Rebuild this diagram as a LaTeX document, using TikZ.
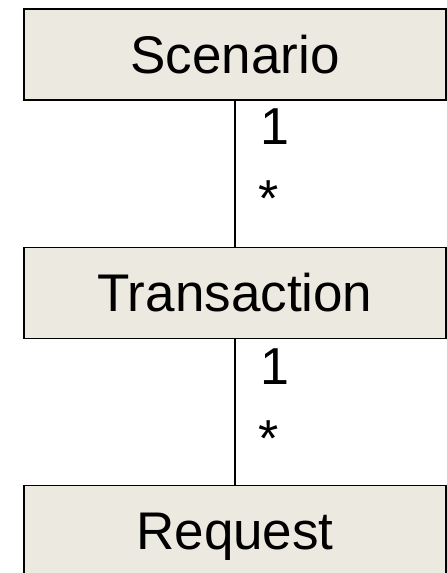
\documentclass[tikz,border=0pt]{standalone}
\usepackage{fontspec}
\setmainfont{Liberation Sans}
\definecolor{boxfill}{RGB}{236,233,224}
\begin{document}
\begin{tikzpicture}[x=1pt,y=1pt,
  classbox/.style={draw=black, line width=1.6pt, fill=boxfill,
    minimum width=422pt, minimum height=91pt, inner sep=0pt,
    font=\fontsize{53}{62}\selectfont, text height=37.9pt, text depth=0pt},
  mult/.style={inner sep=0pt, anchor=base, font=\fontsize{52}{60}\selectfont},
  link/.style={draw=black, line width=1.5pt}]
  \useasboundingbox (0,0) rectangle (447,573);
  \clip (0,0) rectangle (447,573);
  % classes
  \node[classbox] (scen)  at (235,518.5) {Scenario};
  \node[classbox] (trans) at (235,280)   {Transaction};
  \node[classbox] (req)   at (235,42)    {Request};
  % associations
  \draw[link] (scen.south) -- (trans.north);
  \draw[link] (trans.south) -- (req.north);
  % multiplicities
  \node[mult] (m1) at (274.8,428.7) {1};
  \node[mult] (m2) at (269,356.5)   {*};
  \node[mult] (m3) at (274.8,188.7) {1};
  \node[mult] (m4) at (269,116.5)   {*};
\end{tikzpicture}
\end{document}
